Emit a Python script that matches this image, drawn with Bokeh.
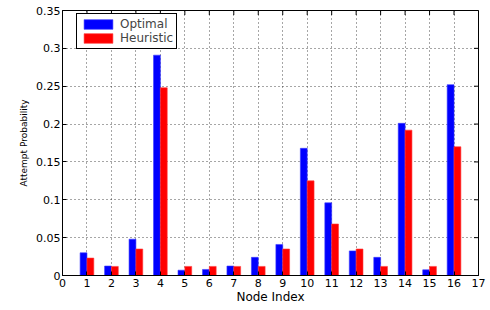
import math
from bokeh.plotting import figure
from bokeh.models import ColumnDataSource, Range1d, FixedTicker, Legend, LegendItem
from bokeh.transform import dodge
from bokeh.embed import file_html
from bokeh.resources import INLINE

nodes = list(range(1, 17))
optimal = [0.030, 0.0125, 0.048, 0.291, 0.007, 0.008, 0.0125, 0.024, 0.041, 0.168, 0.096, 0.0325, 0.024, 0.201, 0.0075, 0.252]
heuristic = [0.023, 0.012, 0.035, 0.248, 0.012, 0.012, 0.012, 0.012, 0.035, 0.125, 0.068, 0.035, 0.012, 0.192, 0.012, 0.170]
x_ticks = list(range(0, 18))
y_ticks = [0, 0.05, 0.1, 0.15, 0.2, 0.25, 0.3, 0.35]
x_min, x_max = 0, 17
y_min, y_max = 0, 0.35

src = ColumnDataSource(dict(node=nodes, optimal=optimal, heuristic=heuristic))

FONT = "DejaVu Sans"
p = figure(width=486, height=306, output_backend="svg", toolbar_location=None,
           x_range=Range1d(x_min, x_max), y_range=Range1d(y_min, y_max),
           min_border_left=62, min_border_right=8, min_border_top=10, min_border_bottom=30)
p.background_fill_color = "white"
p.outline_line_color = "black"
p.outline_line_width = 1
p.outline_line_alpha = 1

r1 = p.vbar(x=dodge("node", -0.14, range=p.x_range), top="optimal", width=0.28, source=src,
            fill_color="#0000ff", line_color="#3a3aff", line_width=0.6)
r2 = p.vbar(x=dodge("node", 0.14, range=p.x_range), top="heuristic", width=0.28, source=src,
            fill_color="#ff0000", line_color="#ff3a3a", line_width=0.6)

# inward ticks on top and right edges
p.scatter(x=x_ticks, y=[y_max] * len(x_ticks), marker="dash", angle=math.pi / 2,
          size=9, line_color="black", line_width=1)
p.scatter(x=[x_max] * len(y_ticks), y=y_ticks, marker="dash",
          size=9, line_color="black", line_width=1)

for ax in (p.xaxis[0], p.yaxis[0]):
    ax.major_tick_in = 4
    ax.major_tick_out = 0
    ax.minor_tick_in = 0
    ax.minor_tick_out = 0
    ax.axis_line_color = "black"
    ax.major_tick_line_color = "black"
    ax.major_label_text_font = FONT
    ax.major_label_text_font_size = "11px"
    ax.major_label_text_color = "black"
    ax.axis_label_text_font = FONT
    ax.axis_label_text_font_style = "normal"
    ax.axis_label_text_color = "black"

p.xaxis.ticker = FixedTicker(ticks=x_ticks)
p.yaxis.ticker = FixedTicker(ticks=y_ticks)
p.xaxis.axis_label = "Node Index"
p.xaxis.axis_label_text_font_size = "12px"
p.xaxis.axis_label_standoff = 0
p.xaxis.major_label_standoff = 3
p.yaxis.axis_label = "Attempt Probability"
p.yaxis.axis_label_text_font_size = "9px"
p.yaxis.axis_label_standoff = 4
p.yaxis.major_label_standoff = 2
p.yaxis.major_label_overrides = {0: "0", 0.05: "0.05", 0.1: "0.1", 0.15: "0.15", 0.2: "0.2", 0.25: "0.25", 0.3: "0.3", 0.35: "0.35"}

p.grid.grid_line_color = "#222222"
p.grid.grid_line_dash = "1 3"
p.grid.grid_line_alpha = 0.8
p.xgrid.ticker = FixedTicker(ticks=x_ticks)
p.ygrid.ticker = FixedTicker(ticks=y_ticks)

legend = Legend(items=[LegendItem(label="Optimal", renderers=[r1]),
                       LegendItem(label="Heuristic", renderers=[r2])],
                location=(14, 226), margin=0,
                border_line_color="black", border_line_alpha=1.0, border_line_width=1.5,
                background_fill_color="white", background_fill_alpha=1.0,
                label_text_font=FONT, label_text_font_size="12px",
                glyph_width=36, glyph_height=12, spacing=0, padding=3,
                label_standoff=4, label_height=12)
p.add_layout(legend, "center")

open("out.html", "w").write(file_html(p, INLINE))
